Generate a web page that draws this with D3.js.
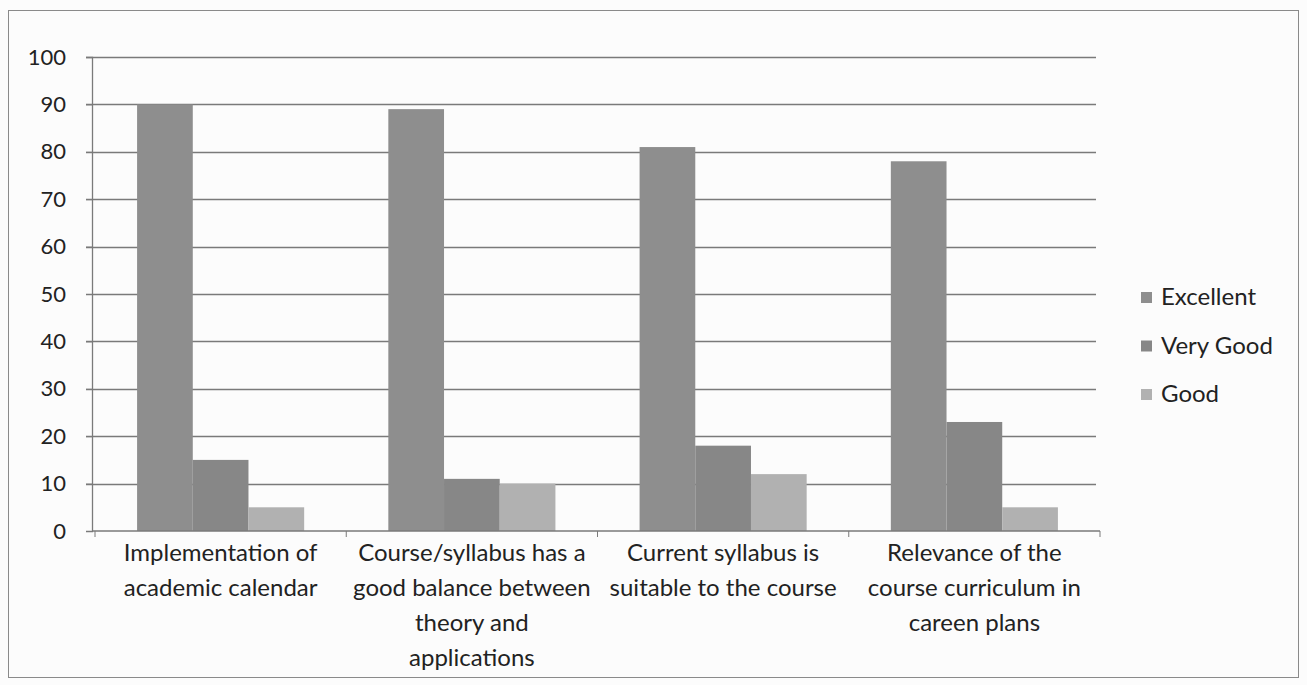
<!DOCTYPE html>
<html>
<head>
<meta charset="utf-8">
<script src="https://cdn.jsdelivr.net/npm/d3@7"></script>
<style>
  body { margin: 0; background: #fcfcfc; }
  svg text { font-family: Lato, "Open Sans", sans-serif; fill: #222; }
</style>
</head>
<body>
<div id="chart"></div>
<script>
// the data
var categories = ["cat1", "cat2", "cat3", "cat4"];
var categoryLines = [
  ["Implementation of", "academic calendar"],
  ["Course/syllabus has a", "good balance between", "theory and", "applications"],
  ["Current syllabus is", "suitable to the course"],
  ["Relevance of the", "course curriculum in", "careen plans"]
];
var seriesNames = ["Excellent", "Very Good", "Good"];
var excellent = [90, 89, 81, 78];
var veryGood = [15, 11, 18, 23];
var good = [5, 10, 12, 5];
var yTicks = [0, 10, 20, 30, 40, 50, 60, 70, 80, 90, 100];

var seriesValues = [excellent, veryGood, good];
var colors = ["#8e8e8e", "#878787", "#b1b1b1"];

var W = 1307, H = 685;
var margin = {top: 57, right: 207, bottom: 154, left: 95};
var width = W - margin.left - margin.right,
    height = H - margin.top - margin.bottom;

var svg = d3.select("#chart").append("svg")
  .attr("width", W)
  .attr("height", H);

// outer frame
svg.append("rect")
  .attr("x", 8.5).attr("y", 10.5)
  .attr("width", 1290).attr("height", 667)
  .attr("fill", "none")
  .attr("stroke", "#8a8a8a")
  .attr("stroke-width", 1);

var g = svg.append("g")
  .attr("transform", "translate(" + margin.left + "," + margin.top + ")");

// scales: category slots, then bars inside the slot (gap width ~ 150%)
var x0 = d3.scaleBand().domain(categories).range([0, width]).padding(0);
var gap = x0.step() * 0.1675;
var x1 = d3.scaleBand().domain(seriesNames).range([gap, x0.step() - gap]);
var y = d3.scaleLinear().domain([0, 100]).range([height, 0]);

// gridlines
g.append("g")
  .selectAll("line")
  .data(yTicks.slice(1))
  .enter().append("line")
    .attr("x1", -9).attr("x2", width - 4)
    .attr("y1", function(d) { return Math.round(y(d)) + 0.5; })
    .attr("y2", function(d) { return Math.round(y(d)) + 0.5; })
    .attr("stroke", "#7a7a7a")
    .attr("stroke-width", 1.3);

// y axis
var yAxis = g.append("g")
  .attr("transform", "translate(-3,0)")
  .call(d3.axisLeft(y).tickValues(yTicks).tickSize(6).tickPadding(20));
yAxis.select(".domain").attr("stroke", "#7a7a7a").attr("stroke-width", 1.3);
yAxis.selectAll(".tick line").attr("stroke", "#7a7a7a");
yAxis.selectAll("text")
  .style("font-family", "Lato, 'Open Sans', sans-serif")
  .style("font-size", "22px")
  .attr("fill", "#222");

// bars
var groups = g.selectAll(".grp")
  .data(categories)
  .enter().append("g")
    .attr("class", "grp")
    .attr("transform", function(d) { return "translate(" + x0(d) + ",0)"; });

groups.selectAll("rect")
  .data(function(d, i) {
    return seriesNames.map(function(s, j) { return {series: s, value: seriesValues[j][i], idx: j}; });
  })
  .enter().append("rect")
    .attr("x", function(d) { return x1(d.series); })
    .attr("y", function(d) { return y(d.value); })
    .attr("width", x1.bandwidth())
    .attr("height", function(d) { return height - y(d.value); })
    .attr("fill", function(d) { return colors[d.idx]; });

// x axis
var xAxis = g.append("g")
  .attr("transform", "translate(0," + height + ")");
xAxis.append("line")
  .attr("x1", -3).attr("x2", width)
  .attr("stroke", "#7a7a7a").attr("stroke-width", 1.3);
xAxis.selectAll(".xt")
  .data(d3.range(categories.length + 1))
  .enter().append("line")
    .attr("x1", function(i) { return i * x0.step(); })
    .attr("x2", function(i) { return i * x0.step(); })
    .attr("y1", 0).attr("y2", 6)
    .attr("stroke", "#7a7a7a");

// category labels
categories.forEach(function(c, i) {
  var cx = x0(c) + x0.bandwidth() / 2;
  var t = xAxis.append("text")
    .attr("x", cx)
    .attr("y", 30)
    .style("text-anchor", "middle")
    .style("font-size", "24px");
  categoryLines[i].forEach(function(line, k) {
    t.append("tspan")
      .attr("x", cx)
      .attr("dy", k === 0 ? 0 : 35)
      .text(line);
  });
});

// legend
var legend = svg.append("g").attr("transform", "translate(1141,297)");
seriesNames.forEach(function(s, i) {
  var row = legend.append("g").attr("transform", "translate(0," + (i * 48.5) + ")");
  row.append("rect")
    .attr("x", 0).attr("y", -5)
    .attr("width", 11).attr("height", 11)
    .attr("fill", colors[i]);
  row.append("text")
    .attr("x", 20).attr("y", 0)
    .attr("dy", "0.35em")
    .style("font-size", "24px")
    .text(s);
});
</script>
</body>
</html>
